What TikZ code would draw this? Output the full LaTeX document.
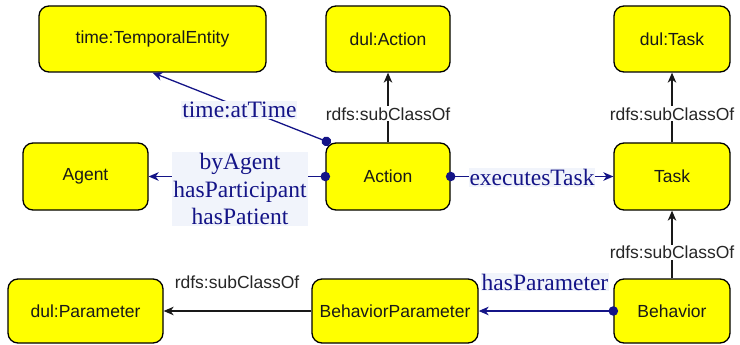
\documentclass[tikz,border=0pt]{standalone}
\usepackage{fontspec}
\setmainfont{Liberation Serif}
\setsansfont{Liberation Sans}
\usetikzlibrary{arrows.meta}
\definecolor{navy}{RGB}{20,20,135}
\definecolor{lblbg}{RGB}{241,244,251}
\definecolor{boxfill}{RGB}{255,255,0}
\tikzset{
  cls/.style={draw=black, fill=boxfill, rounded corners=10pt, line width=1.3pt,
    inner sep=0pt, font=\sffamily\fontsize{17.5}{20}\selectfont, text=black!90},
  prop/.style={draw=navy, line width=1.3pt, shorten <=-4.75pt,
    {Circle[length=9.5pt]}-{Stealth[length=10pt,width=8.5pt,inset=3pt]}},
  sub/.style={draw=black!90, line width=1.3pt, -{Stealth[length=10pt,width=8.5pt,inset=3pt]}},
  plbl/.style={fill=lblbg, text=navy, inner sep=1pt, align=center,
    font=\rmfamily\fontsize{23.5}{27.5}\selectfont},
  slbl/.style={fill=white, text=black!85, inner sep=1pt,
    font=\sffamily\fontsize{17.5}{20}\selectfont},
}
\begin{document}
\begin{tikzpicture}[x=1pt, y=-1pt]
\useasboundingbox (0,0) rectangle (740,345);

% classes
\node[cls, minimum width=227pt, minimum height=66pt] (te) at (152.5,39) {time:TemporalEntity};
\node[cls, minimum width=124pt, minimum height=66pt] (da) at (388,39) {dul:Action};
\node[cls, minimum width=116pt, minimum height=66pt] (dt) at (672,39) {dul:Task};
\node[cls, minimum width=125pt, minimum height=67pt] (ag) at (85.5,176.5) {Agent};
\node[cls, minimum width=124pt, minimum height=67pt] (ac) at (388,176.5) {Action};
\node[cls, minimum width=116pt, minimum height=67pt] (tk) at (672,176.5) {Task};
\node[cls, minimum width=155pt, minimum height=64pt] (dp) at (85.5,311) {dul:Parameter};
\node[cls, minimum width=166pt, minimum height=64pt] (bp) at (395,311) {BehaviorParameter};
\node[cls, minimum width=116pt, minimum height=64pt] (bh) at (672,311) {Behavior};

% subclass relations
\draw[sub] (ac.north) -- node[slbl, pos=0.41] {rdfs:subClassOf} (da.south);
\draw[sub] (tk.north) -- node[slbl, pos=0.41] {rdfs:subClassOf} (dt.south);
\draw[sub] (bh.north) -- node[slbl, pos=0.38] {rdfs:subClassOf} (tk.south);
\draw[sub] (bp.west) -- (dp.east);
\node[slbl, fill=none] (scl) at (237,282) {rdfs:subClassOf};

% object properties
\draw[prop] ([xshift=1pt,yshift=1pt]ac.north west) -- node[plbl, pos=0.5, yshift=-3pt] {time:atTime} (te.south);
\draw[prop] (ac.west) -- (ag.east);
\node[plbl] (agl) at (240,189) {byAgent\\hasParticipant\\hasPatient};
\draw[prop] (ac.east) -- node[plbl, pos=0.5, yshift=-1pt] {executesTask} (tk.west);
\draw[prop] (bh.west) -- (bp.east);
\node[plbl] (hpl) at (545,282) {hasParameter};
\end{tikzpicture}
\end{document}
